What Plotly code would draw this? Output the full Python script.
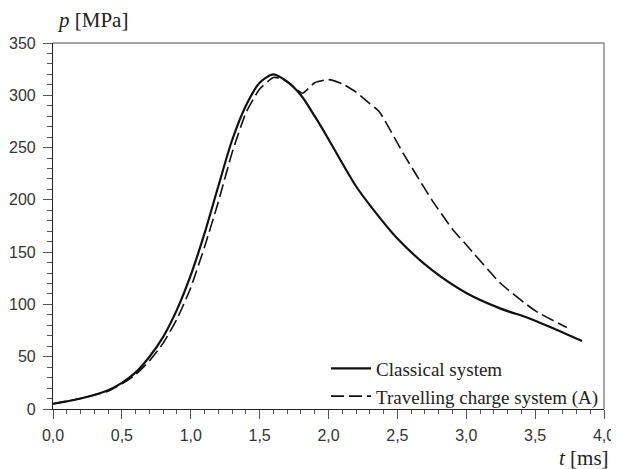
import plotly.graph_objects as go

# Classical system
t_classic = [0.0, 0.2, 0.4, 0.5, 0.6, 0.7, 0.8, 0.9, 1.0, 1.1, 1.2, 1.3, 1.4, 1.5, 1.6, 1.7,
             1.8, 1.9, 2.0, 2.1, 2.2, 2.3, 2.5, 2.75, 3.0, 3.25, 3.45, 3.65, 3.84]
p_classic = [5, 10, 18, 25, 35, 50, 69, 95, 128, 168, 213, 257, 290, 312, 320, 313,
             300, 280, 258, 235, 213, 195, 163, 133, 111, 96, 87, 76, 65]

# Travelling charge system (A)
t_travel = [0.0, 0.2, 0.4, 0.5, 0.6, 0.7, 0.8, 0.9, 1.0, 1.1, 1.2, 1.3, 1.4, 1.5, 1.6, 1.66, 1.72,
            1.81, 1.9, 2.0, 2.1, 2.2, 2.3, 2.37, 2.54, 2.75, 2.9, 3.0, 3.25, 3.5, 3.73]
p_travel = [5, 10, 17, 24, 33, 46, 63, 86, 116, 155, 198, 245, 283, 306, 317, 316, 311,
            302, 312, 315, 311, 303, 292, 284, 245, 200, 172, 157, 120, 94, 78]

x_ticks = [0, 0.5, 1.0, 1.5, 2.0, 2.5, 3.0, 3.5, 4.0]
y_ticks = [0, 50, 100, 150, 200, 250, 300, 350]

fig = go.Figure()
fig.add_trace(go.Scatter(x=t_classic, y=p_classic, mode="lines", name="Classical system",
                         line=dict(color="#111111", width=2.2, shape="spline", smoothing=0.8)))
fig.add_trace(go.Scatter(x=t_travel, y=p_travel, mode="lines", name="Travelling charge system (A)",
                         line=dict(color="#111111", width=1.6, dash="13px,5px", shape="spline", smoothing=0.5)))

axis_font = dict(family="Liberation Sans, Arial", size=16, color="#333333")
fig.update_layout(
    width=611, height=461,
    margin=dict(l=45, r=15, t=35, b=60, autoexpand=False),
    paper_bgcolor="white", plot_bgcolor="white",
    separators=", ",
    showlegend=True,
    legend=dict(x=1.0, xanchor="right", y=-0.018, yanchor="bottom", bgcolor="rgba(0,0,0,0)",
                font=dict(family="Liberation Serif, Times New Roman", size=19, color="#222222"),
                tracegroupgap=0, itemwidth=40, borderwidth=0),
    xaxis=dict(range=[0, 4.0], tickvals=x_ticks, tickformat=".1f", showgrid=False, zeroline=False,
               automargin=False, ticklabelstandoff=3,
               showline=True, linecolor="#222222", linewidth=1.2, ticks="outside", ticklen=9,
               tickcolor="#555555", tickfont=axis_font,
               minor=dict(dtick=0.1, ticks="outside", ticklen=4, tickcolor="#555555")),
    yaxis=dict(range=[0, 350], tickvals=y_ticks, showgrid=False, zeroline=False,
               automargin=False, ticklabelstandoff=4,
               showline=True, linecolor="#222222", linewidth=1.2, ticks="outside", ticklen=9,
               tickcolor="#555555", tickfont=axis_font,
               minor=dict(dtick=10, ticks="outside", ticklen=5, tickcolor="#555555")),
    shapes=[
        dict(type="line", xref="paper", yref="paper", x0=0, x1=1, y0=1, y1=1,
             line=dict(color="#888888", width=1.5)),
        dict(type="line", xref="paper", yref="paper", x0=1, x1=1, y0=0, y1=1,
             line=dict(color="#888888", width=1.5)),
    ],
    annotations=[
        dict(text="<i>p</i> [MPa]", xref="paper", yref="paper", x=0.003, y=1.025,
             xanchor="left", yanchor="bottom", showarrow=False,
             font=dict(family="Liberation Serif, Times New Roman", size=21, color="#222222")),
        dict(text="<i>t</i> [ms]", xref="paper", yref="paper", x=1.013, y=-0.095,
             xanchor="right", yanchor="top", showarrow=False,
             font=dict(family="Liberation Serif, Times New Roman", size=21, color="#222222")),
    ],
)

fig.write_html("out.html")
